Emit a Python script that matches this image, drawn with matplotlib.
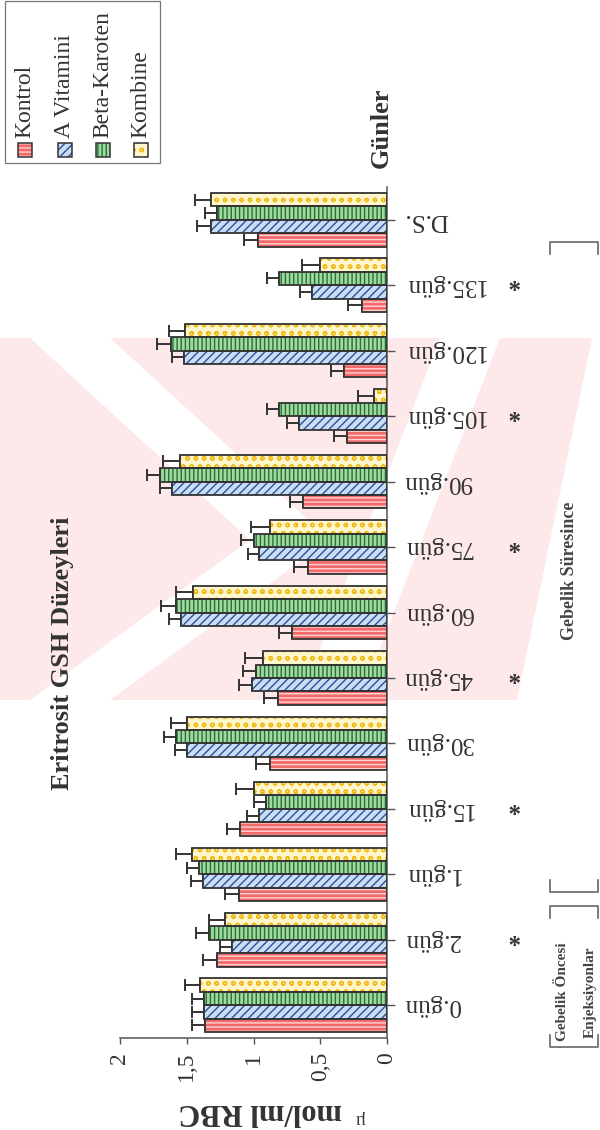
import matplotlib
matplotlib.use('Agg')
import matplotlib.pyplot as plt
from matplotlib.patches import Rectangle, Polygon
from matplotlib.lines import Line2D
import numpy as np

plt.rcParams['font.family'] = ['Liberation Serif', 'DejaVu Serif']
plt.rcParams['hatch.linewidth'] = 1.0

categories = ['0.gün', '2.gün', '1.gün', '15.gün', '30.gün', '45.gün', '60.gün',
              '75.gün', '90.gün', '105.gün', '120.gün', '135.gün', 'D.S.']
starred = ['2.gün', '15.gün', '45.gün', '75.gün', '105.gün', '135.gün']
groups = ['Kontrol', 'A Vitamini', 'Beta-Karoten', 'Kombine']

kontrol = [1.36, 1.27, 1.11, 1.10, 0.88, 0.82, 0.71, 0.59, 0.63, 0.30, 0.32, 0.19, 0.97]
a_vitamini = [1.37, 1.16, 1.38, 0.96, 1.50, 1.01, 1.54, 0.96, 1.61, 0.66, 1.52, 0.56, 1.32]
beta_karoten = [1.37, 1.33, 1.41, 0.91, 1.58, 0.98, 1.58, 1.00, 1.70, 0.81, 1.62, 0.81, 1.27]
kombine = [1.40, 1.21, 1.46, 1.00, 1.50, 0.93, 1.45, 0.88, 1.55, 0.10, 1.51, 0.50, 1.32]

kontrol_err = [0.10, 0.11, 0.10, 0.10, 0.10, 0.10, 0.10, 0.11, 0.10, 0.10, 0.10, 0.10, 0.10]
a_vitamini_err = [0.09, 0.09, 0.09, 0.09, 0.09, 0.10, 0.09, 0.08, 0.09, 0.09, 0.09, 0.09, 0.10]
beta_karoten_err = [0.09, 0.10, 0.09, 0.09, 0.09, 0.10, 0.11, 0.09, 0.10, 0.09, 0.10, 0.09, 0.09]
kombine_err = [0.11, 0.12, 0.12, 0.13, 0.12, 0.13, 0.13, 0.14, 0.13, 0.12, 0.12, 0.14, 0.12]

series = [kontrol, a_vitamini, beta_karoten, kombine]
errors = [kontrol_err, a_vitamini_err, beta_karoten_err, kombine_err]

# fill colour, hatch colour, hatch
styles = [('#f06a6a', '#ffd2d2', '----'),
          ('#c9ddf3', '#2d4f9c', '////'),
          ('#a6d6a2', '#1f7434', '||||'),
          ('#fff6cc', '#f0bb1a', 'oo')]
edge = '#333333'

W, H = 600, 1130


def fx(px):
    return px / W


def fy(py):
    return 1 - py / H


fig = plt.figure(figsize=(6, 11.3), dpi=100)

# faint watermark in the background
pink = '#fde8ea'
wm = [Polygon([(fx(0), fy(338)), (fx(592), fy(338)), (fx(517), fy(700)), (fx(0), fy(700))], fc=pink),
      Polygon([(fx(30), fy(338)), (fx(110), fy(338)), (fx(330), fy(540)),
               (fx(110), fy(700)), (fx(30), fy(700)), (fx(250), fy(540))], fc='white'),
      Polygon([(fx(440), fy(338)), (fx(500), fy(338)), (fx(360), fy(700)), (fx(300), fy(700))], fc='white')]
for p in wm:
    p.set_transform(fig.transFigure)
    p.set_edgecolor('none')
    p.set_zorder(0)
    fig.patches.append(p)

ax = fig.add_axes([fx(120), fy(1038), (387 - 120) / W, (1038 - 187) / H])
ax.set_zorder(2)
ax.patch.set_alpha(0)

y = np.arange(len(categories))
n = len(categories)
h = 0.205
for i, (vals, errs, st) in enumerate(zip(series, errors, styles)):
    pos = y + (i - 1.5) * h
    ax.errorbar(vals, pos, xerr=[np.zeros(n), errs], fmt='none', ecolor=edge,
                elinewidth=1.4, capsize=4.5, capthick=1.4, zorder=1)
    ax.barh(pos, vals, height=h, color=st[0], edgecolor=st[1], hatch=st[2], linewidth=0, zorder=2)
    ax.barh(pos, vals, height=h, fill=False, edgecolor=edge, linewidth=1.3, zorder=3)

ax.set_xlim(2, 0)
ax.set_ylim(-0.5, len(categories) - 0.5)
ax.set_xticks([0, 0.5, 1, 1.5, 2])
ax.set_xticklabels(['0', '0,5', '1', '1,5', '2'], rotation=90, fontsize=17, color='#333333')
ax.yaxis.tick_right()
ax.set_yticks(y)
ax.set_yticklabels(categories, rotation=180, fontsize=18, color='#333333', va='center')
ax.tick_params(axis='y', length=6, width=1, color='#555555', pad=6)
ax.tick_params(axis='x', length=4, width=1, color='#555555', pad=6)
for s in ['top', 'left']:
    ax.spines[s].set_visible(False)
for s in ['right', 'bottom']:
    ax.spines[s].set_color('#555555')
    ax.spines[s].set_linewidth(1.1)

# significance marks
for c in starred:
    ax.text(1.47, categories.index(c) + 0.1, '*', transform=ax.get_yaxis_transform(),
            rotation=180, fontsize=18, weight='bold', ha='center', va='center', color='#333333')

# texts
fig.text(fx(63), fy(517), 'Eritrosit GSH Düzeyleri', rotation=90, fontsize=19, weight='bold',
         ha='center', va='top', color='#333333')
fig.text(fx(381), fy(128), 'Günler', rotation=90, fontsize=19, weight='bold',
         ha='center', va='center', color='#333333')
fig.text(fx(260), fy(1112), 'mol/ml RBC', rotation=180, fontsize=22, weight='bold',
         ha='center', va='center', color='#333333')
fig.text(fx(360), fy(1118), 'µ', rotation=180, fontsize=13, ha='center', va='center', color='#333333')
fig.text(fx(569), fy(571), 'Gebelik Süresince', rotation=90, fontsize=13, weight='bold',
         ha='center', va='center', color='#444444')
fig.text(fx(563), fy(992), 'Gebelik Öncesi', rotation=90, fontsize=11, weight='bold',
         ha='center', va='center', color='#444444')
fig.text(fx(590), fy(992), 'Enjeksiyonlar', rotation=90, fontsize=11, weight='bold',
         ha='center', va='center', color='#444444')


def bracket(ypix, direction):
    # rotated square bracket: short cap with ends bent toward the text
    d = 12 * direction
    xs = [fx(550), fx(550), fx(598), fx(598)]
    ys = [fy(ypix + d), fy(ypix), fy(ypix), fy(ypix + d)]
    fig.lines.append(Line2D(xs, ys, transform=fig.transFigure, color='#666666', lw=1.2))


bracket(242, 1)
bracket(892, -1)
bracket(906, 1)
bracket(1047, -1)

# legend drawn by hand, rotated like the rest of the page
fig.patches.append(Rectangle((fx(5), fy(163)), fx(155), 162 / H, transform=fig.transFigure,
                             fill=False, ec='#777777', lw=0.9))
legend_x = [25, 65, 103, 141]
for name, st, xc in zip(groups, styles, legend_x):
    fig.patches.append(Rectangle((fx(xc - 7), fy(157)), 14 / W, 14 / H, transform=fig.transFigure,
                                 fc=st[0], ec=st[1], hatch=st[2], lw=0))
    fig.patches.append(Rectangle((fx(xc - 7), fy(157)), 14 / W, 14 / H, transform=fig.transFigure,
                                 fill=False, ec=edge, lw=1.1))
    fig.text(fx(xc), fy(138), name, rotation=90, fontsize=17, ha='center', va='bottom', color='#333333')

fig.savefig('out.png', dpi=100)
